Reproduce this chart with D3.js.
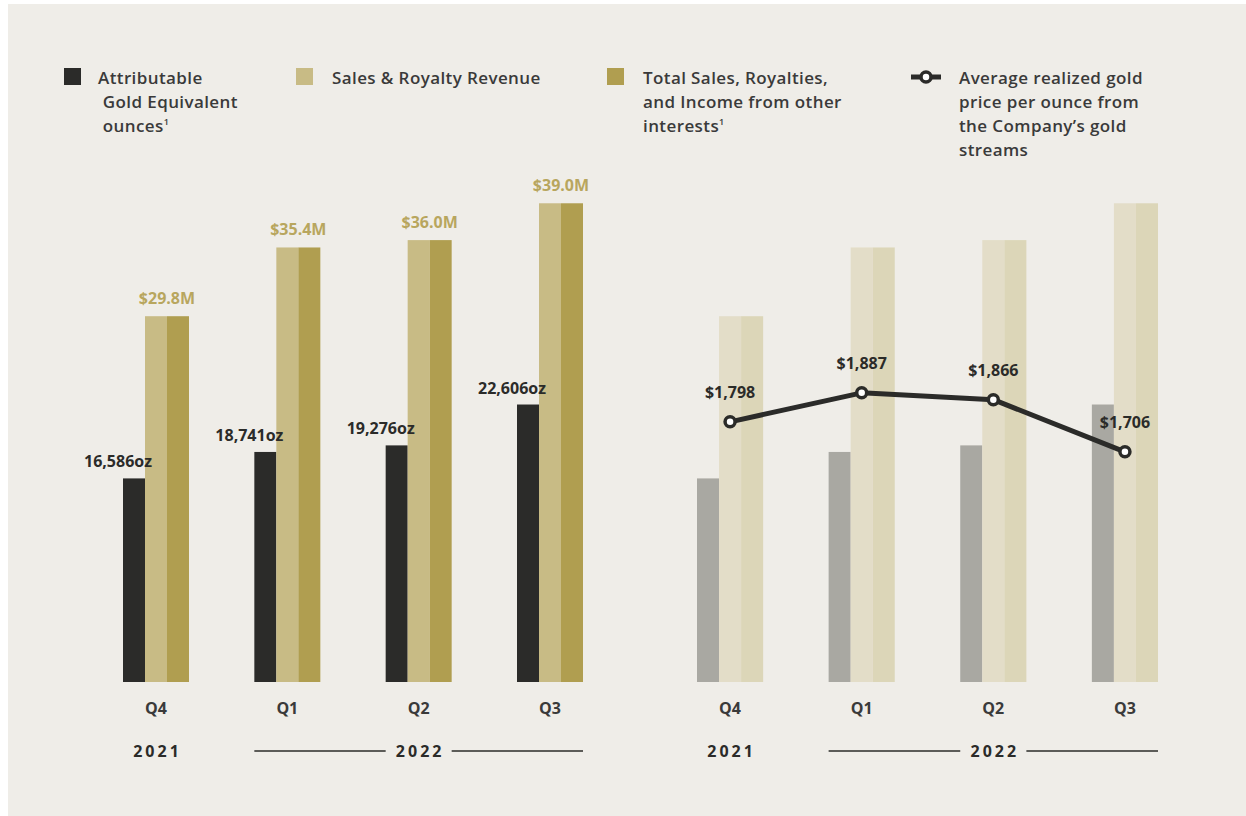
<!DOCTYPE html>
<html>
<head>
<meta charset="utf-8">
<script src="https://cdn.jsdelivr.net/npm/d3@7"></script>
<style>
  body { margin: 0; background: #fff; }
  svg { display: block; }
  text { font-family: "Open Sans", sans-serif; }
</style>
</head>
<body>
<div class="chart"></div>
<script>
// chart data
var quarters = ["Q4", "Q1", "Q2", "Q3"];
var years = ["2021", "2022", "2022", "2022"];
var ounces = [16586, 18741, 19276, 22606];
var salesRoyalty = [29.8, 35.4, 36.0, 39.0];
var totalSales = [29.8, 35.4, 36.0, 39.0];
var goldPrice = [1798, 1887, 1866, 1706];

var legendLabels = [
  ["Attributable", " Gold Equivalent", " ounces¹"],
  ["Sales & Royalty Revenue"],
  ["Total Sales, Royalties,", "and Income from other", "interests¹"],
  ["Average realized gold", "price per ounce from", "the Company\u2019s gold", "streams"]
];

var svgWidth = 1246;
var svgHeight = 816;

var colors = {
  oz: "#2b2b29",
  sales: "#c8bb85",
  total: "#b09e50",
  ozFaded: "#a9a8a2",
  salesFaded: "#e3ddc8",
  totalFaded: "#dcd6b8",
  text: "#3a3a3a",
  gold: "#b8a65e"
};

var svg = d3.select(".chart")
  .append("svg")
  .attr("width", svgWidth)
  .attr("height", svgHeight);

svg.append("rect")
  .attr("x", 8)
  .attr("y", 4)
  .attr("width", svgWidth - 8)
  .attr("height", svgHeight - 4)
  .attr("fill", "#efede8");

var baseY = 682;

var yOz = d3.scaleLinear().domain([0, 40000]).range([baseY, 191]);
var yMoney = d3.scaleLinear().domain([0, 40]).range([baseY, 191]);
var yPrice = d3.scaleLinear().domain([1000, 2500]).range([baseY, 193]);

var rows = quarters.map(function(q, i) {
  return { q: q, year: years[i], oz: ounces[i], sales: salesRoyalty[i], total: totalSales[i], price: goldPrice[i] };
});

// ---- legend ----
var legendX = [64, 296, 607, 911];
var legendKeys = ["oz", "sales", "total", "line"];

legendKeys.forEach(function(key, i) {
  var g = svg.append("g").attr("transform", `translate(${legendX[i]}, 0)`);
  var textX;
  if (key === "line") {
    g.append("line")
      .attr("x1", 0).attr("x2", 30)
      .attr("y1", 77).attr("y2", 77)
      .attr("stroke", colors.oz)
      .attr("stroke-width", 5);
    g.append("circle")
      .attr("cx", 15).attr("cy", 77).attr("r", 5)
      .attr("fill", "#fff")
      .attr("stroke", colors.oz)
      .attr("stroke-width", 3.5);
    textX = 48;
  } else {
    g.append("rect")
      .attr("x", 0).attr("y", 68)
      .attr("width", 17).attr("height", 17)
      .attr("fill", colors[key]);
    textX = key === "oz" ? 34 : 36;
  }
  var t = g.append("text")
    .attr("x", textX)
    .attr("y", 84)
    .attr("fill", colors.text)
    .attr("font-size", "17px")
    .attr("font-weight", 600)
    .attr("letter-spacing", "0.4px");
  legendLabels[i].forEach(function(line, j) {
    var sup = line.endsWith("¹");
    t.append("tspan")
      .attr("x", textX)
      .attr("y", 84 + j * 24)
      .attr("xml:space", "preserve")
      .text(sup ? line.slice(0, -1) : line);
    if (sup) {
      t.append("tspan")
        .attr("font-size", "9px")
        .attr("dy", -7)
        .text("1");
    }
  });
});

// ---- panels ----
function drawPanel(x0, x1, faded) {
  var x = d3.scaleBand()
    .domain(quarters)
    .range([x0, x1])
    .paddingInner(0.4975)
    .paddingOuter(0);

  var xInner = d3.scaleBand()
    .domain(["oz", "sales", "total"])
    .range([0, x.bandwidth()]);

  var g = svg.append("g");

  var groups = g.selectAll(".grp")
    .data(rows)
    .enter()
    .append("g")
    .attr("transform", d => `translate(${x(d.q)}, 0)`);

  groups.append("rect")
    .attr("x", xInner("oz"))
    .attr("y", d => yOz(d.oz))
    .attr("width", xInner.bandwidth())
    .attr("height", d => baseY - yOz(d.oz))
    .attr("fill", faded ? colors.ozFaded : colors.oz);

  groups.append("rect")
    .attr("x", xInner("sales"))
    .attr("y", d => yMoney(d.sales))
    .attr("width", xInner.bandwidth())
    .attr("height", d => baseY - yMoney(d.sales))
    .attr("fill", faded ? colors.salesFaded : colors.sales);

  groups.append("rect")
    .attr("x", xInner("total"))
    .attr("y", d => yMoney(d.total))
    .attr("width", xInner.bandwidth())
    .attr("height", d => baseY - yMoney(d.total))
    .attr("fill", faded ? colors.totalFaded : colors.total);

  if (!faded) {
    groups.append("text")
      .attr("x", xInner("oz") - 5)
      .attr("y", d => yOz(d.oz) - 11)
      .attr("text-anchor", "middle")
      .attr("font-size", "16px")
      .attr("font-weight", 700)
      .attr("fill", colors.oz)
      .text(d => d3.format(",")(d.oz) + "oz");

    groups.append("text")
      .attr("x", xInner("total"))
      .attr("y", d => Math.min(yMoney(d.sales), yMoney(d.total)) - 12)
      .attr("text-anchor", "middle")
      .attr("font-size", "16px")
      .attr("font-weight", 700)
      .attr("fill", colors.gold)
      .text(d => "$" + d3.format(".1f")(d.total) + "M");
  }

  // quarter labels
  g.selectAll(".qlabel")
    .data(rows)
    .enter()
    .append("text")
    .attr("x", d => x(d.q) + x.bandwidth() / 2)
    .attr("y", 714)
    .attr("text-anchor", "middle")
    .attr("font-size", "16px")
    .attr("font-weight", 700)
    .attr("fill", colors.text)
    .text(d => d.q);

  // year labels
  var yearList = Array.from(new Set(years));
  yearList.forEach(function(yr) {
    var qs = rows.filter(d => d.year === yr).map(d => d.q);
    var mid = qs[Math.floor(qs.length / 2)];
    g.append("text")
      .attr("x", x(mid) + x.bandwidth() / 2 + 1.5)
      .attr("y", 757)
      .attr("text-anchor", "middle")
      .attr("font-size", "16px")
      .attr("font-weight", 700)
      .attr("letter-spacing", "3px")
      .attr("fill", colors.oz)
      .text(yr);
    if (qs.length > 1) {
      var first = qs[0], last = qs[qs.length - 1];
      g.append("line")
        .attr("x1", x(first)).attr("x2", x(mid))
        .attr("y1", 751).attr("y2", 751)
        .attr("stroke", colors.oz).attr("stroke-width", 1.5);
      g.append("line")
        .attr("x1", x(mid) + x.bandwidth()).attr("x2", x(last) + x.bandwidth())
        .attr("y1", 751).attr("y2", 751)
        .attr("stroke", colors.oz).attr("stroke-width", 1.5);
    }
  });

  return x;
}

drawPanel(123, 583, false);
var xRight = drawPanel(697, 1158, true);

// ---- gold price line ----
var line = d3.line()
  .x(d => xRight(d.q) + xRight.bandwidth() / 2)
  .y(d => yPrice(d.price));

svg.append("path")
  .datum(rows)
  .attr("d", line)
  .attr("fill", "none")
  .attr("stroke", colors.oz)
  .attr("stroke-width", 5)
  .attr("stroke-linejoin", "round");

svg.selectAll(".pt")
  .data(rows)
  .enter()
  .append("circle")
  .attr("cx", d => xRight(d.q) + xRight.bandwidth() / 2)
  .attr("cy", d => yPrice(d.price))
  .attr("r", 5)
  .attr("fill", "#fff")
  .attr("stroke", colors.oz)
  .attr("stroke-width", 3.5);

svg.selectAll(".ptlabel")
  .data(rows)
  .enter()
  .append("text")
  .attr("x", d => xRight(d.q) + xRight.bandwidth() / 2)
  .attr("y", d => yPrice(d.price) - 24)
  .attr("text-anchor", "middle")
  .attr("font-size", "16px")
  .attr("font-weight", 700)
  .attr("fill", colors.oz)
  .text(d => "$" + d3.format(",")(d.price));
</script>
</body>
</html>
